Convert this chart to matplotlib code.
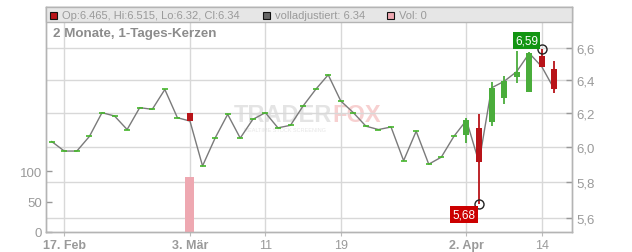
import numpy as np
import matplotlib.pyplot as plt
from matplotlib.patches import Rectangle
from matplotlib.ticker import FixedLocator, FuncFormatter, NullLocator

plt.rcParams['font.family'] = ['Liberation Sans', 'DejaVu Sans']

# trading days (Feb 16 - Apr 15, 2026, no Good Friday / Easter Monday)
dates = ['2026-02-16', '2026-02-17', '2026-02-18', '2026-02-19', '2026-02-20',
         '2026-02-23', '2026-02-24', '2026-02-25', '2026-02-26', '2026-02-27',
         '2026-03-02', '2026-03-03', '2026-03-04', '2026-03-05', '2026-03-06',
         '2026-03-09', '2026-03-10', '2026-03-11', '2026-03-12', '2026-03-13',
         '2026-03-16', '2026-03-17', '2026-03-18', '2026-03-19', '2026-03-20',
         '2026-03-23', '2026-03-24', '2026-03-25', '2026-03-26', '2026-03-27',
         '2026-03-30', '2026-03-31', '2026-04-01', '2026-04-02', '2026-04-07',
         '2026-04-08', '2026-04-09', '2026-04-10', '2026-04-13', '2026-04-14',
         '2026-04-15']

closes = [6.03, 5.975, 5.975, 6.06, 6.20, 6.18, 6.10, 6.23, 6.22, 6.34,
          6.17, 6.15, 5.89, 6.05, 6.19, 6.05, 6.16, 6.20, 6.11, 6.125,
          6.24, 6.34, 6.43, 6.27, 6.20, 6.12, 6.10, 6.115, 5.92, 6.09,
          5.90, 5.94, 6.06, 6.155, 5.91, 6.35, 6.39, 6.45, 6.565, 6.48,
          6.34]
opens = [6.03, 5.975, 5.975, 6.06, 6.20, 6.18, 6.10, 6.23, 6.22, 6.34,
         6.17, 6.20, 5.89, 6.05, 6.19, 6.05, 6.16, 6.20, 6.11, 6.125,
         6.24, 6.34, 6.43, 6.27, 6.20, 6.12, 6.10, 6.115, 5.92, 6.09,
         5.90, 5.94, 6.06, 6.07, 6.11, 6.145, 6.29, 6.415, 6.325, 6.545,
         6.465]
highs = [6.03, 5.975, 5.975, 6.06, 6.20, 6.18, 6.10, 6.23, 6.22, 6.34,
         6.17, 6.20, 5.89, 6.05, 6.19, 6.05, 6.16, 6.20, 6.11, 6.125,
         6.24, 6.34, 6.43, 6.27, 6.20, 6.12, 6.10, 6.115, 5.92, 6.09,
         5.90, 5.94, 6.06, 6.17, 6.19, 6.385, 6.42, 6.58, 6.57, 6.59,
         6.515]
lows = [6.03, 5.975, 5.975, 6.06, 6.20, 6.18, 6.10, 6.23, 6.22, 6.34,
        6.17, 6.15, 5.89, 6.05, 6.19, 6.05, 6.16, 6.20, 6.11, 6.125,
        6.24, 6.34, 6.43, 6.27, 6.20, 6.12, 6.10, 6.115, 5.92, 6.09,
        5.90, 5.94, 6.06, 6.02, 5.68, 6.12, 6.25, 6.38, 6.325, 6.48,
        6.32]
volumes = [0] * 11 + [90] + [0] * 29

tick_dates = ['2026-02-17', '2026-03-03', '2026-03-11', '2026-03-19', '2026-04-02', '2026-04-14']
tick_labels = ['17. Feb', '3. Mär', '11', '19', '2. Apr', '14']
price_ticks = [5.6, 5.8, 6.0, 6.2, 6.4, 6.6]
vol_ticks = [0, 50, 100]

GREEN = '#4aad3b'
RED = '#b81419'
GRAY_TXT = '#9a9a9a'

W, H = 632, 253
fig = plt.figure(figsize=(W / 100, H / 100), dpi=100)
ax = fig.add_axes([46 / W, 20 / H, 526 / W, 225 / H])
axv = ax.twinx()

x = np.arange(len(dates))
o = np.array(opens); c = np.array(closes); hi = np.array(highs); lo = np.array(lows)

# price part
ax.set_yscale('log')
ax.set_ylim(5.527, 6.864)
ax.set_xlim(-0.456, 41.4)
ax.plot(x, c, color='#7a7a7a', lw=1.0, zorder=2)

flat = hi == lo
ax.plot(x[flat], c[flat], ls='none', marker='_', ms=5, mew=1.2, color='#44b52a', zorder=3)

cand = ~flat
up = cand & (c >= o)
dn = cand & (c < o)
for m, col in ((up, GREEN), (dn, RED)):
    ax.vlines(x[m], lo[m], hi[m], color=col, lw=1.3, zorder=3)
    ax.bar(x[m], c[m] - o[m], bottom=o[m], width=0.48, color=col, zorder=4)

# high / low markers
ih = int(np.argmax(hi)); il = int(np.argmin(lo))
ax.plot([x[ih], x[il]], [hi[ih], lo[il]], ls='none', marker='o', ms=6.5, mfc='none',
        mec='#222222', mew=1.0, zorder=6)
ax.annotate(f"{hi[ih]:.2f}".replace('.', ','), (x[ih], hi[ih]), xytext=(-11, 6.5),
            textcoords='offset points', ha='center', va='center', color='white', fontsize=8.5,
            bbox=dict(boxstyle='square,pad=0.2', fc='#129512', ec='none'), zorder=7)
ax.annotate(f"{lo[il]:.2f}".replace('.', ','), (x[il], lo[il]), xytext=(-11, -8),
            textcoords='offset points', ha='center', va='center', color='white', fontsize=8.5,
            bbox=dict(boxstyle='square,pad=0.2', fc='#cc0000', ec='none'), zorder=7)

ax.yaxis.set_major_locator(FixedLocator(price_ticks))
ax.yaxis.set_minor_locator(NullLocator())
ax.yaxis.set_major_formatter(FuncFormatter(lambda v, p: f"{v:.1f}".replace('.', ',')))
ax.yaxis.tick_right()
ax.tick_params(axis='y', which='both', direction='in', length=4, width=1, color='#999999',
               labelcolor=GRAY_TXT, labelsize=9.5, pad=3)
ax.grid(axis='y', color='#d8d8d8', lw=1)

tick_pos = [dates.index(d) for d in tick_dates]
ax.set_xticks(tick_pos)
ax.set_xticklabels(tick_labels)
ax.tick_params(axis='x', direction='out', length=3, color='#bbbbbb', labelcolor=GRAY_TXT,
               labelsize=9, pad=2)
for t in ax.get_xticklabels():
    if '.' in t.get_text():
        t.set_fontweight('bold')
ax.grid(axis='x', color='#d8d8d8', lw=1)

# volume part
axv.bar(x, volumes, width=0.72, color='#eea8b1', zorder=2)
axv.set_ylim(0, 370.7)
axv.yaxis.tick_left()
axv.set_yticks(vol_ticks)
axv.tick_params(axis='y', direction='in', length=4, width=1, color='#999999',
                labelcolor=GRAY_TXT, labelsize=9.5, pad=3)

for a in (ax, axv):
    for s in a.spines.values():
        s.set_color('#b4b4b4')
        s.set_linewidth(1)

# watermark
ax.text((332 - 46) / 526, (233 - 116) / 225, 'TRADER', transform=ax.transAxes, ha='right',
        va='center', fontsize=17, fontweight='bold', color='#e4e4e4', zorder=1)
ax.text((332 - 46) / 526, (233 - 116) / 225, 'FOX', transform=ax.transAxes, ha='left',
        va='center', fontsize=17, fontweight='bold', color='#f7d0d0', zorder=1)
ax.text((285 - 46) / 526, (233 - 130) / 225, 'REALTIME STOCK SCREENING', transform=ax.transAxes,
        ha='center', va='center', fontsize=4, color='#e6e6e6', zorder=1)


def fx(px):
    return px / W


def fy(py):
    return 1 - py / H


# header band
fig.add_artist(Rectangle((fx(46), fy(23)), 526 / W, 15 / H, transform=fig.transFigure,
                         fc='#e6e6e6', ec='#b4b4b4', lw=1))
legend_items = [(50, RED, f"Op:{opens[-1]}, Hi:{highs[-1]}, Lo:{lows[-1]}, Cl:{closes[-1]}"),
                (263, '#666666', f"volladjustiert: {closes[-1]}"),
                (387, '#eea8b1', f"Vol: {volumes[-1]}")]
for px, col, txt in legend_items:
    fig.add_artist(Rectangle((fx(px), fy(19.5)), 7 / W, 7 / H, transform=fig.transFigure,
                             fc=col, ec='#111111', lw=0.8))
    fig.text(fx(px + 12), fy(16), txt, ha='left', va='center', fontsize=8.0, color=GRAY_TXT)

fig.text(fx(53), fy(33.5), '2 Monate, 1-Tages-Kerzen', ha='left', va='center',
         fontsize=9.6, fontweight='bold', color='#8c8c8c')

fig.savefig('out.png', dpi=100)
